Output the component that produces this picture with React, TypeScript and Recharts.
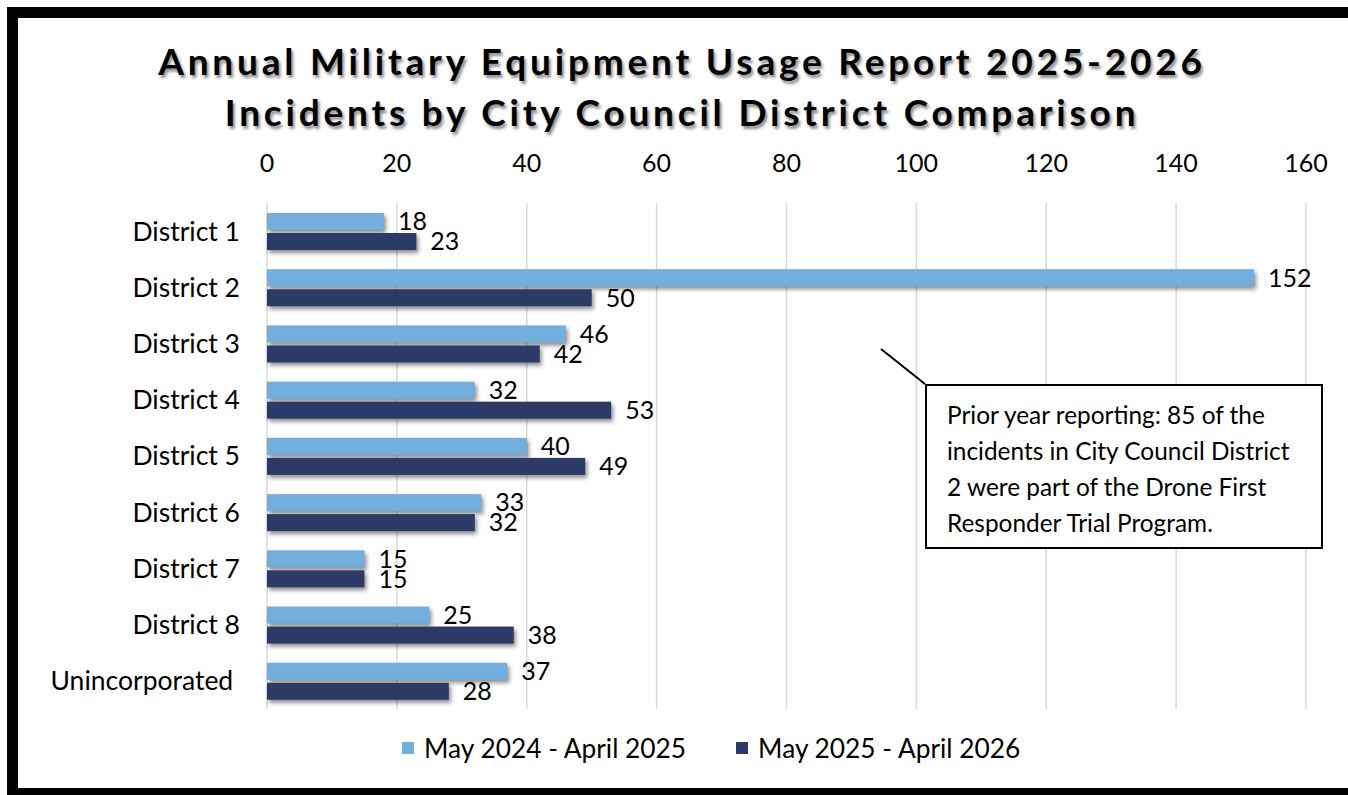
import React from "react";
import { BarChart, Bar, XAxis, YAxis, CartesianGrid, LabelList } from "recharts";

const districts = [
  "District 1",
  "District 2",
  "District 3",
  "District 4",
  "District 5",
  "District 6",
  "District 7",
  "District 8",
  "Unincorporated",
];
const prior = [18, 152, 46, 32, 40, 33, 15, 25, 37];
const current = [23, 50, 42, 53, 49, 32, 15, 38, 28];
const xTicks = [0, 20, 40, 60, 80, 100, 120, 140, 160];

const seriesNames = ["May 2024 - April 2025", "May 2025 - April 2026"];
const seriesColors = ["#74AEDD", "#2B3A66"];

const titleLines = [
  "Annual Military Equipment Usage Report 2025-2026",
  "Incidents by City Council District Comparison",
];
const noteLines = [
  "Prior year reporting: 85 of the",
  "incidents in City Council District",
  "2 were part of the Drone First",
  "Responder Trial Program.",
];

const data = districts.map((name, i) => ({
  name,
  prior: prior[i],
  current: current[i],
}));

const FONT = "Lato, 'Open Sans', sans-serif";

const shadowShape = (props: any) => {
  const { x, y, width, height, fill } = props;
  return (
    <rect
      x={x}
      y={y}
      width={width}
      height={height}
      fill={fill}
      style={{ filter: "drop-shadow(2px 3px 2px rgba(0,0,0,0.45))" }}
    />
  );
};

export default function App() {
  return (
    <div
      style={{
        position: "fixed",
        left: 0,
        top: 0,
        width: 1348,
        height: 795,
        overflow: "hidden",
        background: "#fff",
        fontFamily: FONT,
      }}
    >
      <div
        style={{
          position: "absolute",
          left: 7,
          top: 7,
          width: 1420,
          height: 792,
          boxSizing: "border-box",
          border: "11px solid #000",
        }}
      />
      <div
        style={{
          position: "absolute",
          left: 0,
          top: 35,
          width: 1364,
          textAlign: "center",
          fontSize: 37,
          lineHeight: "51px",
          fontWeight: 700,
          letterSpacing: 3.8,
          color: "#000",
          textShadow: "2px 3px 3px rgba(0,0,0,0.45)",
          whiteSpace: "nowrap",
        }}
      >
        {titleLines.map((t) => (
          <div key={t}>{t}</div>
        ))}
      </div>
      <div style={{ position: "absolute", left: 0, top: 0 }}>
        <BarChart
          width={1348}
          height={795}
          data={data}
          layout="vertical"
          margin={{ top: 163, right: 42, bottom: 86, left: 0 }}
          barSize={17}
          barGap={3}
        >
          <CartesianGrid horizontal={false} stroke="#d9d9d9" strokeWidth={1.5} />
          <XAxis
            type="number"
            orientation="top"
            domain={[0, 160]}
            ticks={xTicks}
            height={40}
            axisLine={false}
            tickLine={false}
            tickSize={0}
            tickMargin={31}
            tick={{ fill: "#000", fontSize: 25, fontFamily: FONT }}
            interval={0}
          />
          <YAxis
            type="category"
            dataKey="name"
            width={267}
            axisLine={false}
            tickLine={false}
            tickSize={0}
            tickMargin={27}
            tickFormatter={(v: string) => (v === "Unincorporated" ? v + "\u00A0" : v)}
            tick={{ fill: "#000", fontSize: 26.5, fontFamily: FONT }}
            interval={0}
          />
          <Bar
            dataKey="prior"
            name={seriesNames[0]}
            fill={seriesColors[0]}
            shape={shadowShape}
            isAnimationActive={false}
          >
            <LabelList
              dataKey="prior"
              position="right"
              offset={14}
              style={{ fill: "#000", fontSize: 25, fontFamily: FONT }}
            />
          </Bar>
          <Bar
            dataKey="current"
            name={seriesNames[1]}
            fill={seriesColors[1]}
            shape={shadowShape}
            isAnimationActive={false}
          >
            <LabelList
              dataKey="current"
              position="right"
              offset={14}
              style={{ fill: "#000", fontSize: 25, fontFamily: FONT }}
            />
          </Bar>
        </BarChart>
      </div>
      {/* legend */}
      <div
        style={{
          position: "absolute",
          left: 402,
          top: 731,
          display: "flex",
          alignItems: "center",
          fontSize: 26.3,
          lineHeight: "34px",
          color: "#000",
          whiteSpace: "nowrap",
        }}
      >
        {seriesNames.map((n, i) => (
          <div
            key={n}
            style={{ display: "flex", alignItems: "center", marginRight: i === 0 ? 50 : 0 }}
          >
            <div style={{ width: 12, height: 12, background: seriesColors[i], marginRight: 10 }} />
            <span>{n}</span>
          </div>
        ))}
      </div>
      {/* annotation */}
      <svg
        style={{ position: "absolute", left: 0, top: 0 }}
        width={1348}
        height={795}
        pointerEvents="none"
      >
        <line x1={881} y1={349} x2={925} y2={384} stroke="#000" strokeWidth={2} />
      </svg>
      <div
        style={{
          position: "absolute",
          left: 925,
          top: 384,
          width: 398,
          height: 165,
          boxSizing: "border-box",
          border: "2px solid #000",
          background: "#fff",
          padding: "11px 0 0 20px",
          fontSize: 24.4,
          lineHeight: "36px",
          color: "#000",
          whiteSpace: "nowrap",
        }}
      >
        {noteLines.map((t) => (
          <div key={t}>{t}</div>
        ))}
      </div>
    </div>
  );
}
